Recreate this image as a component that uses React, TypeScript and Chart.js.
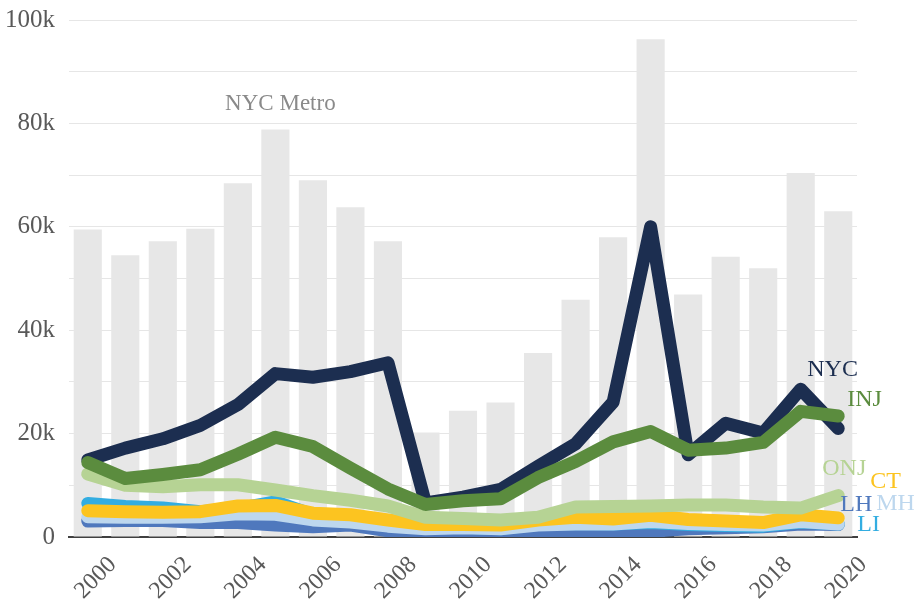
import React, { useEffect, useRef } from "react";
import { Chart, registerables } from "chart.js";

Chart.register(...registerables);

const years = ["2000","2001","2002","2003","2004","2005","2006","2007","2008","2009","2010","2011","2012","2013","2014","2015","2016","2017","2018","2019","2020"];
const tickYears = ["2000","2002","2004","2006","2008","2010","2012","2014","2016","2018","2020"];

const nycMetro = [59.5,54.5,57.2,59.6,68.4,78.8,69.0,63.8,57.2,20.2,24.4,26.0,35.6,45.9,58.0,96.3,46.9,54.2,52.0,70.4,63.0];
const nyc = [14.9,17.2,19.0,21.6,25.6,31.6,30.9,32.0,33.7,6.6,7.7,9.2,13.7,18.0,26.1,60.0,15.9,22.0,20.1,28.6,21.0];
const inj = [14.4,11.3,12.1,13.0,16.0,19.3,17.5,13.3,9.3,6.3,7.0,7.4,11.5,14.6,18.4,20.4,16.8,17.2,18.3,24.3,23.4];
const onj = [12.2,10.0,9.7,10.1,10.1,9.1,8.0,7.1,6.0,3.8,3.6,3.3,3.8,5.8,5.9,6.0,6.2,6.2,5.8,5.6,8.0];
const ct = [5.1,4.9,4.8,4.9,6.0,6.1,4.6,4.3,3.3,2.4,2.4,2.3,3.3,3.8,3.5,4.2,3.4,3.1,2.8,4.3,3.7];
const lh = [3.1,3.2,3.2,2.8,2.8,2.3,2.0,2.3,1.2,0.5,0.6,0.8,0.8,0.9,1.0,1.1,1.6,1.8,2.0,2.5,2.4];
const mh = [3.9,3.8,3.8,3.9,4.5,4.4,3.3,2.9,2.1,1.6,1.8,1.6,2.3,2.5,2.5,3.0,2.6,2.4,2.3,3.0,2.5];
const li = [6.5,5.9,5.6,4.9,5.5,6.8,4.3,3.7,2.6,1.8,1.9,1.6,2.5,2.6,2.5,2.8,2.4,2.2,2.1,2.9,2.5];

const FONT = "'Liberation Serif', 'Times New Roman', serif";

type S = { name: string; data: number[]; color: string; order: number; dx: number; dy: number };
const series: S[] = [
  { name: "LH", data: lh, color: "#4f78bd", order: 7, dx: 2, dy: -20 },
  { name: "LI", data: li, color: "#33ade1", order: 6, dx: 19, dy: 1 },
  { name: "MH", data: mh, color: "#bdd7ee", order: 5, dx: 38, dy: -20 },
  { name: "CT", data: ct, color: "#fcc420", order: 4, dx: 32, dy: -36 },
  { name: "ONJ", data: onj, color: "#b6d394", order: 3, dx: -16, dy: -27 },
  { name: "NYC", data: nyc, color: "#1c2e50", order: 2, dx: -31, dy: -59 },
  { name: "INJ", data: inj, color: "#5b8c3e", order: 1, dx: 9, dy: -16 },
];

const labelsPlugin = {
  id: "seriesLabels",
  afterDatasetsDraw(chart: any) {
    const ctx = chart.ctx;
    const xs = chart.scales.x;
    const ys = chart.scales.y;
    ctx.save();
    ctx.font = `24px ${FONT}`;
    ctx.textBaseline = "middle";
    ctx.textAlign = "left";
    const last = years.length - 1;
    series.forEach((s) => {
      ctx.fillStyle = s.color;
      const px = xs.getPixelForValue(last);
      const py = ys.getPixelForValue(s.data[last] * 1000);
      ctx.fillText(s.name, px + s.dx, py + s.dy);
    });
    ctx.font = `23px ${FONT}`;
    ctx.textAlign = "center";
    ctx.fillStyle = "#8a8a8a";
    const bi = 5;
    ctx.fillText("NYC Metro", xs.getPixelForValue(bi) + 5, ys.getPixelForValue(nycMetro[bi] * 1000) - 26);
    ctx.restore();
  },
};

export default function App() {
  const ref = useRef<HTMLCanvasElement>(null);
  useEffect(() => {
    if (!ref.current) return;
    const chart = new Chart(ref.current, {
      type: "bar",
      data: {
        labels: years,
        datasets: [
          {
            type: "bar",
            label: "NYC Metro",
            data: nycMetro.map((v) => v * 1000),
            backgroundColor: "#e7e7e7",
            barPercentage: 0.75,
            categoryPercentage: 1,
            order: 100,
          } as any,
          ...series.map((s) => ({
            type: "line",
            label: s.name,
            data: s.data.map((v) => v * 1000),
            borderColor: s.color,
            backgroundColor: s.color,
            borderWidth: 13,
            borderCapStyle: "round",
            borderJoinStyle: "round",
            pointRadius: 0,
            tension: 0,
            order: s.order,
          })),
        ],
      },
      options: {
        responsive: false,
        animation: false,
        devicePixelRatio: 1,
        layout: { padding: { top: 20, right: 57, left: 0, bottom: 0 } },
        plugins: { legend: { display: false }, tooltip: { enabled: false } },
        scales: {
          x: {
            offset: true,
            grid: { display: false, drawTicks: false },
            border: { display: true, color: "#404040", width: 2 },
            ticks: {
              autoSkip: false,
              minRotation: 45,
              maxRotation: 45,
              padding: 14,
              labelOffset: 25,
              color: "#595959",
              font: { family: FONT, size: 24 },
              callback: (v: any, i: number) => (tickYears.includes(years[i]) ? years[i] : ""),
            },
            afterFit: (s: any) => { s.height = 65; s.paddingLeft = 0; s.paddingRight = 0; },
          },
          y: {
            min: 0,
            max: 100000,
            grid: { color: "#e6e6e6", lineWidth: 1, drawTicks: false },
            border: { display: false },
            ticks: {
              stepSize: 10000,
              padding: 14,
              color: "#595959",
              font: { family: FONT, size: 25 },
              callback: (v: any) => (v % 20000 === 0 ? (v === 0 ? "0" : v / 1000 + "k") : ""),
            },
            afterFit: (s: any) => { s.width = 69; s.paddingTop = 0; s.paddingBottom = 0; },
          },
        },
      },
      plugins: [labelsPlugin],
    } as any);
    return () => chart.destroy();
  }, []);
  return (
    <div style={{ position: "fixed", left: 0, top: 0, width: 914, height: 602, background: "#fff" }}>
      <canvas ref={ref} width={914} height={602} style={{ width: 914, height: 602, display: "block" }} />
    </div>
  );
}
